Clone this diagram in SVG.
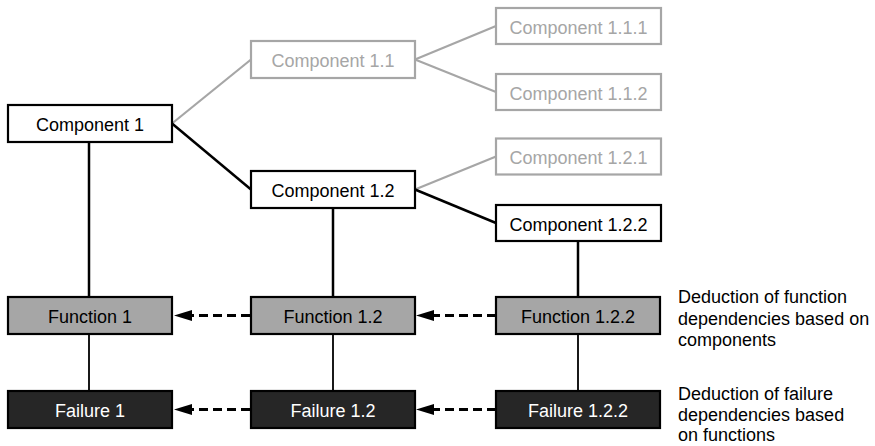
<svg xmlns="http://www.w3.org/2000/svg" width="875" height="446" viewBox="0 0 875 446">
  <defs>
    <style>
      text { font-family: "Liberation Sans", Arial, sans-serif; font-size: 18px; }
      .lbl { text-anchor: middle; }
      .comp rect { fill: #ffffff; stroke: #000000; stroke-width: 2.2; }
      .comp text { fill: #000000; }
      .faded rect { fill: #ffffff; stroke: #a6a6a6; stroke-width: 2.2; }
      .faded text { fill: #a6a6a6; }
      .func rect { fill: #a6a6a6; stroke: #000000; stroke-width: 2.2; }
      .func text { fill: #000000; }
      .fail rect { fill: #262626; stroke: #000000; stroke-width: 2.2; }
      .fail text { fill: #ffffff; }
      .link { stroke: #000000; stroke-width: 2.5; fill: none; }
      .link-faded { stroke: #a6a6a6; stroke-width: 2.2; fill: none; }
      .thin { stroke: #000000; stroke-width: 1.8; fill: none; }
      .dash { stroke: #000000; stroke-width: 3; stroke-dasharray: 9 5; fill: none; }
      .head { fill: #000000; }
      .note { fill: #000000; }
    </style>
  </defs>

  <!-- connectors -->
  <g id="connectors">
    <!-- component tree -->
    <line class="link-faded" x1="172" y1="123.5" x2="251" y2="59.5"/>
    <line class="link" x1="172" y1="123.5" x2="251" y2="189.5"/>
    <line class="link-faded" x1="415" y1="59.5" x2="496" y2="26"/>
    <line class="link-faded" x1="415" y1="59.5" x2="496" y2="92"/>
    <line class="link-faded" x1="415" y1="189.5" x2="496" y2="156.5"/>
    <line class="link" x1="415" y1="189.5" x2="496" y2="223"/>
    <!-- component to function -->
    <line class="link" x1="89" y1="142" x2="89" y2="297"/>
    <line class="link" x1="333" y1="208" x2="333" y2="297"/>
    <line class="link" x1="578" y1="241" x2="578" y2="297"/>
    <!-- function to failure -->
    <line class="thin" x1="89" y1="334" x2="89" y2="391"/>
    <line class="thin" x1="333" y1="334" x2="333" y2="391"/>
    <line class="thin" x1="578" y1="334" x2="578" y2="391"/>
    <!-- deduction arrows -->
    <line class="dash" x1="250" y1="315.5" x2="192" y2="315.5"/>
    <polygon class="head" points="174,315.5 192,310 192,321"/>
    <line class="dash" x1="496" y1="315.5" x2="434" y2="315.5"/>
    <polygon class="head" points="416,315.5 434,310 434,321"/>
    <line class="dash" x1="250" y1="409.5" x2="192" y2="409.5"/>
    <polygon class="head" points="174,409.5 192,404 192,415"/>
    <line class="dash" x1="496" y1="409.5" x2="434" y2="409.5"/>
    <polygon class="head" points="416,409.5 434,404 434,415"/>
  </g>

  <!-- components -->
  <g id="component-1" class="comp">
    <rect x="8" y="105" width="164" height="37"/>
    <text class="lbl" x="90" y="131">Component 1</text>
  </g>
  <g id="component-1-1" class="faded">
    <rect x="251" y="41" width="164" height="37"/>
    <text class="lbl" x="333" y="67">Component 1.1</text>
  </g>
  <g id="component-1-1-1" class="faded">
    <rect x="496" y="8" width="165" height="36"/>
    <text class="lbl" x="578.5" y="33.5">Component 1.1.1</text>
  </g>
  <g id="component-1-1-2" class="faded">
    <rect x="496" y="74" width="165" height="36"/>
    <text class="lbl" x="578.5" y="99.5">Component 1.1.2</text>
  </g>
  <g id="component-1-2" class="comp">
    <rect x="251" y="171" width="164" height="37"/>
    <text class="lbl" x="333" y="197">Component 1.2</text>
  </g>
  <g id="component-1-2-1" class="faded">
    <rect x="496" y="138.5" width="165" height="36"/>
    <text class="lbl" x="578.5" y="164">Component 1.2.1</text>
  </g>
  <g id="component-1-2-2" class="comp">
    <rect x="496" y="205" width="165" height="36"/>
    <text class="lbl" x="578.5" y="230.5">Component 1.2.2</text>
  </g>

  <!-- functions -->
  <g id="function-1" class="func">
    <rect x="8" y="297" width="164" height="37"/>
    <text class="lbl" x="90" y="323">Function 1</text>
  </g>
  <g id="function-1-2" class="func">
    <rect x="251" y="297" width="164" height="37"/>
    <text class="lbl" x="333" y="323">Function 1.2</text>
  </g>
  <g id="function-1-2-2" class="func">
    <rect x="496" y="297" width="164" height="37"/>
    <text class="lbl" x="578" y="323">Function 1.2.2</text>
  </g>

  <!-- failures -->
  <g id="failure-1" class="fail">
    <rect x="8" y="391" width="164" height="37"/>
    <text class="lbl" x="90" y="417">Failure 1</text>
  </g>
  <g id="failure-1-2" class="fail">
    <rect x="251" y="391" width="164" height="37"/>
    <text class="lbl" x="333" y="417">Failure 1.2</text>
  </g>
  <g id="failure-1-2-2" class="fail">
    <rect x="496" y="391" width="164" height="37"/>
    <text class="lbl" x="578" y="417">Failure 1.2.2</text>
  </g>

  <!-- side notes -->
  <g id="note-functions" class="note">
    <text x="678" y="303">Deduction of function</text>
    <text x="678" y="324.5">dependencies based on</text>
    <text x="678" y="346">components</text>
  </g>
  <g id="note-failures" class="note">
    <text x="678" y="400">Deduction of failure</text>
    <text x="678" y="420.5">dependencies based</text>
    <text x="678" y="441">on functions</text>
  </g>
</svg>
